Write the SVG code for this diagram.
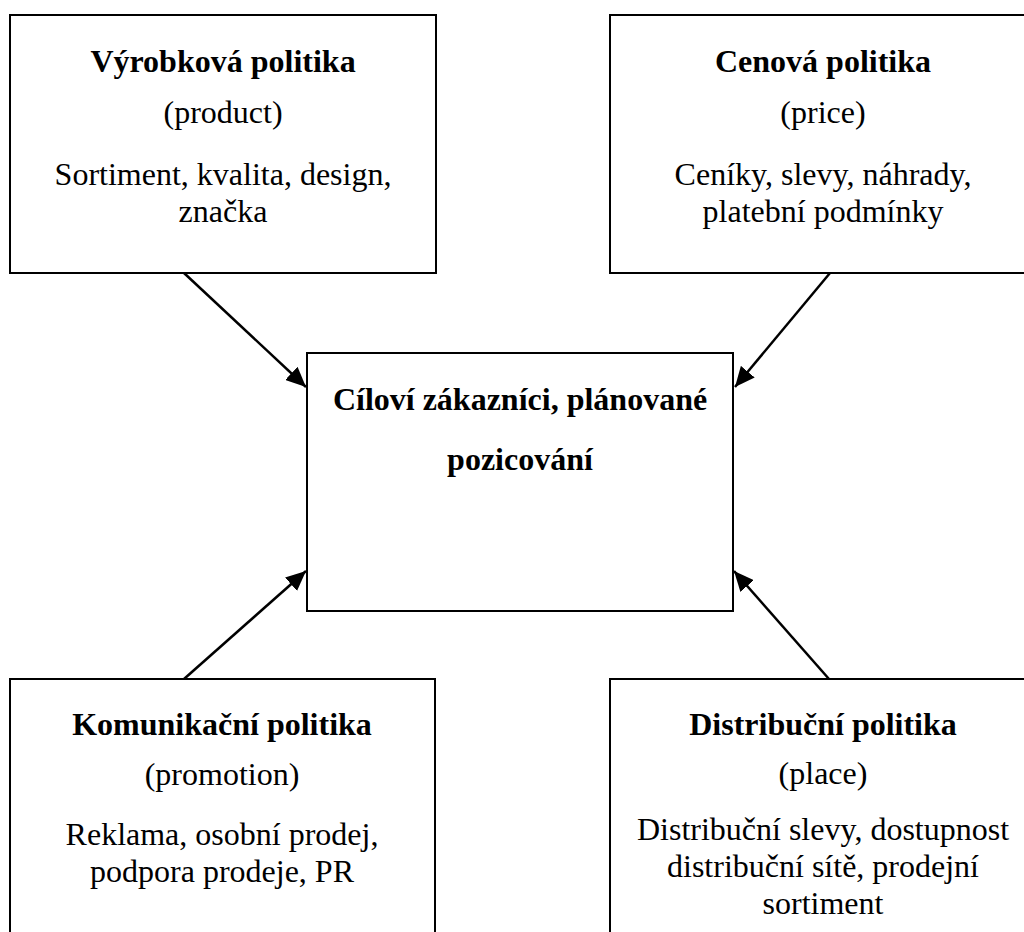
<svg xmlns="http://www.w3.org/2000/svg" width="1024" height="932" viewBox="0 0 1024 932">
<style>
.box{fill:#fff;stroke:#000;stroke-width:2}
.t{font-family:"Liberation Serif","Times New Roman",serif;font-size:32px;text-anchor:middle;fill:#000}
.b{font-weight:bold}
.c{stroke:#000;stroke-width:2.5;fill:none;marker-end:url(#ah)}
</style>
<defs>
<marker id="ah" markerUnits="userSpaceOnUse" markerWidth="22" markerHeight="18" refX="20" refY="9" orient="auto">
<path d="M0,0 L20,9 L0,18 Z" fill="#000"/>
</marker>
</defs>
<rect width="1024" height="932" fill="#fff"/>
<g id="connectors">
<line class="c" x1="184" y1="273" x2="306" y2="387"/>
<line class="c" x1="830" y1="273" x2="735" y2="387"/>
<line class="c" x1="184" y1="679" x2="306" y2="571"/>
<line class="c" x1="829" y1="679" x2="734" y2="571"/>
</g>
<g id="product">
<rect class="box" x="10" y="15" width="426" height="258"/>
<text class="t b" x="223" y="72">Výrobková politika</text>
<text class="t" x="223" y="123">(product)</text>
<text class="t" x="223" y="185">Sortiment, kvalita, design,</text>
<text class="t" x="223" y="222">značka</text>
</g>
<g id="price">
<rect class="box" x="610" y="15" width="426" height="258"/>
<text class="t b" x="823" y="72">Cenová politika</text>
<text class="t" x="823" y="123">(price)</text>
<text class="t" x="823" y="185">Ceníky, slevy, náhrady,</text>
<text class="t" x="823" y="222">platební podmínky</text>
</g>
<g id="target">
<rect class="box" x="307" y="353" width="426" height="258"/>
<text class="t b" x="520" y="410">Cíloví zákazníci, plánované</text>
<text class="t b" x="520" y="470">pozicování</text>
</g>
<g id="promotion">
<rect class="box" x="10" y="679" width="425" height="270"/>
<text class="t b" x="222" y="735">Komunikační politika</text>
<text class="t" x="222" y="785">(promotion)</text>
<text class="t" x="222" y="845">Reklama, osobní prodej,</text>
<text class="t" x="222" y="882">podpora prodeje, PR</text>
</g>
<g id="place">
<rect class="box" x="610" y="679" width="426" height="270"/>
<text class="t b" x="823" y="735">Distribuční politika</text>
<text class="t" x="823" y="784">(place)</text>
<text class="t" x="823" y="840">Distribuční slevy, dostupnost</text>
<text class="t" x="823" y="877">distribuční sítě, prodejní</text>
<text class="t" x="823" y="914">sortiment</text>
</g>
</svg>
